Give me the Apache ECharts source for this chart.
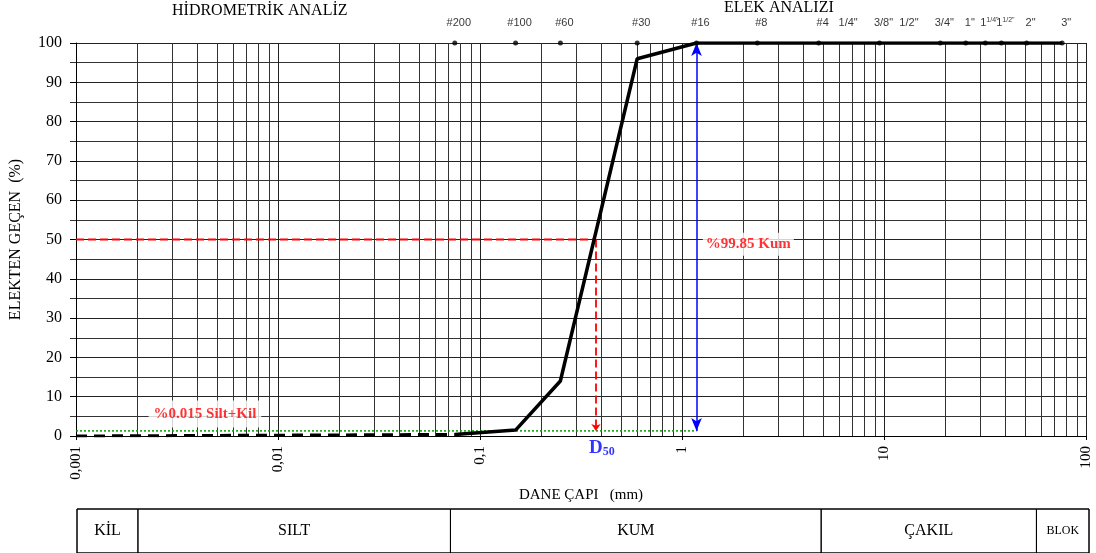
<!DOCTYPE html>
<html>
<head>
<meta charset="utf-8">
<script src="https://cdn.jsdelivr.net/npm/echarts@6/dist/echarts.min.js"></script>
<style>
html, body { margin: 0; padding: 0; background: #fff; }
#main { width: 1096px; height: 553px; }
</style>
</head>
<body>
<div id="main"></div>
<script>
// elek numaraları ve açıklıkları (mm)
var sieveNames = ['#200', '#100', '#60', '#30', '#16', '#8', '#4', '1/4"', '3/8"', '1/2"', '3/4"', '1"', '1 1/4"', '1 1/2"', '2"', '3"'];
var sieveSizes = [0.075, 0.15, 0.25, 0.6, 1.18, 2.36, 4.75, 6.35, 9.5, 12.7, 19, 25.4, 31.75, 38.1, 50.8, 76.2];
var sieveHasDot = [true, true, true, true, true, true, true, false, true, false, true, true, true, true, true, true];

// granülometri eğrisi (elekten geçen %)
var curveSizes = [0.075, 0.15, 0.25, 0.6, 1.18, 2.36, 4.75, 9.5, 19, 25.4, 31.75, 38.1, 50.8, 76.2];
var curvePass = [0.4, 1.5, 14, 96, 100, 100, 100, 100, 100, 100, 100, 100, 100, 100];

// hidrometre kısmı (kesikli)
var fineSizes = [0.001, 0.075];
var finePass = [0, 0.4];

var d50Size = 0.375;
var d50Pass = 50;
var siltClayPass = 1.3;
var sandTopSize = 1.18;

var kumText = '%99.85 Kum';
var kumPos = [2.13, 48.8];
var siltText = '%0.015 Silt+Kil';
var siltPos = [0.00435, 5.6];

// zemin sınıfı tablosu
var zoneNames = ['KİL', 'SILT', 'KUM', 'ÇAKIL', 'BLOK'];
var zoneBounds = [0.001, 0.002, 0.07, 4.75, 55, 100];

// log ara çizgileri
var gridDecades = [0.001, 0.01, 0.1, 1, 10];
var gridSteps = [2, 3, 4, 5, 6, 7, 8, 9];

var serif = 'Liberation Serif';
var sans = 'Liberation Sans';

var minorLines = [];
gridDecades.forEach(function (d) {
    gridSteps.forEach(function (s) {
        var x = +(d * s).toPrecision(3);
        minorLines.push({ coords: [[x, 0], [x, 100]] });
    });
});

function pairs(xs, ys) {
    return xs.map(function (x, i) { return [x, ys[i]]; });
}

var sieveData = sieveSizes.map(function (s, i) {
    return { value: [s, 100], name: sieveNames[i], itemStyle: { color: sieveHasDot[i] ? '#000' : 'rgba(0,0,0,0)' } };
});

var zoneData = zoneNames.map(function (n, i) {
    return [
        { name: n, xAxis: zoneBounds[i], label: { fontSize: n === 'BLOK' ? 12 : 16 } },
        { xAxis: zoneBounds[i + 1] }
    ];
});

var myChart = echarts.init(document.getElementById('main'));
myChart.setOption({
    animation: false,
    title: [
        { text: 'HİDROMETRİK ANALİZ', left: 172, top: 3, padding: 0,
          textStyle: { fontFamily: serif, fontSize: 16, fontWeight: 'normal', color: '#000' } },
        { text: 'ELEK ANALİZİ', left: 724, top: 0, padding: 0,
          textStyle: { fontFamily: serif, fontSize: 16, fontWeight: 'normal', color: '#000' } }
    ],
    grid: [
        { left: 75, right: 10, top: 43, bottom: 117 },
        { left: 77, right: 7, top: 509, height: 44, show: true, borderColor: '#000', borderWidth: 1, backgroundColor: 'transparent' }
    ],
    xAxis: [
        {
            type: 'log', logBase: 10, min: 0.001, max: 100, gridIndex: 0,
            name: 'DANE ÇAPI   (mm)', nameLocation: 'middle', nameGap: 50,
            nameTextStyle: { fontFamily: serif, fontSize: 15, color: '#000' },
            axisLine: { lineStyle: { color: '#000', width: 1 } },
            axisTick: { show: true, length: 4, lineStyle: { color: '#000' } },
            splitLine: { show: true, lineStyle: { color: '#222', width: 1 } },
            axisLabel: {
                rotate: 90, margin: 10, color: '#000', fontFamily: serif, fontSize: 15,
                formatter: function (v) { return String(+v.toPrecision(4)).replace('.', ','); }
            }
        },
        { type: 'log', logBase: 10, min: 0.001, max: 100, gridIndex: 1, show: false }
    ],
    yAxis: [
        {
            type: 'value', min: 0, max: 100, interval: 10, gridIndex: 0,
            name: 'ELEKTEN GEÇEN  (%)', nameLocation: 'middle', nameGap: 52,
            nameTextStyle: { fontFamily: serif, fontSize: 16, color: '#000' },
            axisLine: { show: true, lineStyle: { color: '#000' } },
            axisTick: { show: true, length: 6, lineStyle: { color: '#000' } },
            minorTick: { show: true, splitNumber: 2, length: 6, lineStyle: { color: '#333' } },
            splitLine: { show: true, lineStyle: { color: '#222', width: 1 } },
            minorSplitLine: { show: true, lineStyle: { color: '#333', width: 1 } },
            axisLabel: { margin: 14, color: '#000', fontFamily: serif, fontSize: 16 }
        },
        { type: 'value', min: 0, max: 1, gridIndex: 1, show: false }
    ],
    series: [
        {
            // log ara dikey çizgiler
            name: 'grid', type: 'lines', coordinateSystem: 'cartesian2d', z: 1, silent: true,
            polyline: false, symbol: 'none',
            lineStyle: { color: '#333', width: 1, opacity: 1 },
            data: minorLines
        },
        {
            name: 'siltkil', type: 'line', z: 2, silent: true,
            data: [[0.001, siltClayPass], [sandTopSize, siltClayPass]],
            symbol: 'none',
            lineStyle: { color: '#00a000', width: 1.5, type: [2, 2] }
        },
        {
            name: 'd50', type: 'line', z: 3, silent: true,
            data: [[0.001, d50Pass], [d50Size, d50Pass]],
            symbol: 'none',
            lineStyle: { color: '#ff0000', width: 1.8, type: [8, 4] },
            markLine: {
                silent: true, symbol: ['none', 'arrow'], symbolSize: 7,
                label: { show: false },
                lineStyle: { color: '#ff0000', width: 1.8, type: [8, 4] },
                data: [[{ coord: [d50Size, d50Pass] }, { coord: [d50Size, siltClayPass] }]]
            }
        },
        {
            name: 'hidrometre', type: 'line', z: 4, silent: true,
            data: pairs(fineSizes, finePass), symbol: 'none',
            lineStyle: { color: '#000', width: 3, type: [11, 7] }
        },
        {
            name: 'egri', type: 'line', z: 5, silent: true,
            data: pairs(curveSizes, curvePass), symbol: 'none',
            lineStyle: { color: '#000', width: 3.5 },
            markLine: {
                silent: true, symbol: ['arrow', 'arrow'], symbolSize: [8, 13],
                label: { show: false },
                lineStyle: { color: '#0000ff', width: 1.5, type: 'solid' },
                data: [[{ coord: [sandTopSize, siltClayPass] }, { coord: [sandTopSize, 100] }]]
            }
        },
        {
            name: 'elekler', type: 'scatter', z: 6, silent: true,
            data: sieveData, symbolSize: 5,
            label: {
                show: true, position: 'top', distance: 12, offset: [4, 0],
                color: '#000', fontFamily: sans, fontSize: 11,
                formatter: function (p) {
                    var parts = p.name.split(' ');
                    if (parts.length > 1) return parts[0] + '{s|' + parts[1] + '}';
                    return p.name;
                },
                rich: { s: { fontSize: 7, fontFamily: sans, color: '#000', verticalAlign: 'top', padding: [0, 0, 5, 0] } }
            }
        },
        {
            name: 'notlar', type: 'scatter', z: 10, silent: true,
            symbolSize: 0,
            data: [
                { value: kumPos, name: kumText },
                { value: siltPos, name: siltText, label: { padding: [6, 5] } }
            ],
            label: {
                show: true, position: 'inside', formatter: '{b}',
                color: '#ff0000', fontFamily: serif, fontWeight: 'bold', fontSize: 15,
                backgroundColor: '#fff', padding: [4, 3]
            }
        },
        {
            name: 'D50', type: 'scatter', z: 10, silent: true, symbolSize: 0,
            data: [[d50Size, 0]],
            label: {
                show: true, position: 'bottom', distance: 2, offset: [6, 0],
                formatter: '{a|D}{b|50}',
                rich: {
                    a: { color: '#0000ff', fontFamily: serif, fontWeight: 'bold', fontSize: 19 },
                    b: { color: '#0000ff', fontFamily: serif, fontWeight: 'bold', fontSize: 12, padding: [8, 0, 0, 0] }
                }
            }
        },
        {
            name: 'tablo', type: 'line', xAxisIndex: 1, yAxisIndex: 1, silent: true,
            data: [[0.001, 0]], symbol: 'none', lineStyle: { opacity: 0 },
            markArea: {
                silent: true,
                itemStyle: { color: 'rgba(0,0,0,0)', borderColor: '#000', borderWidth: 1 },
                label: { show: true, position: 'inside', color: '#000', fontFamily: serif, fontSize: 16 },
                data: zoneData
            }
        }
    ]
});
</script>
</body>
</html>
